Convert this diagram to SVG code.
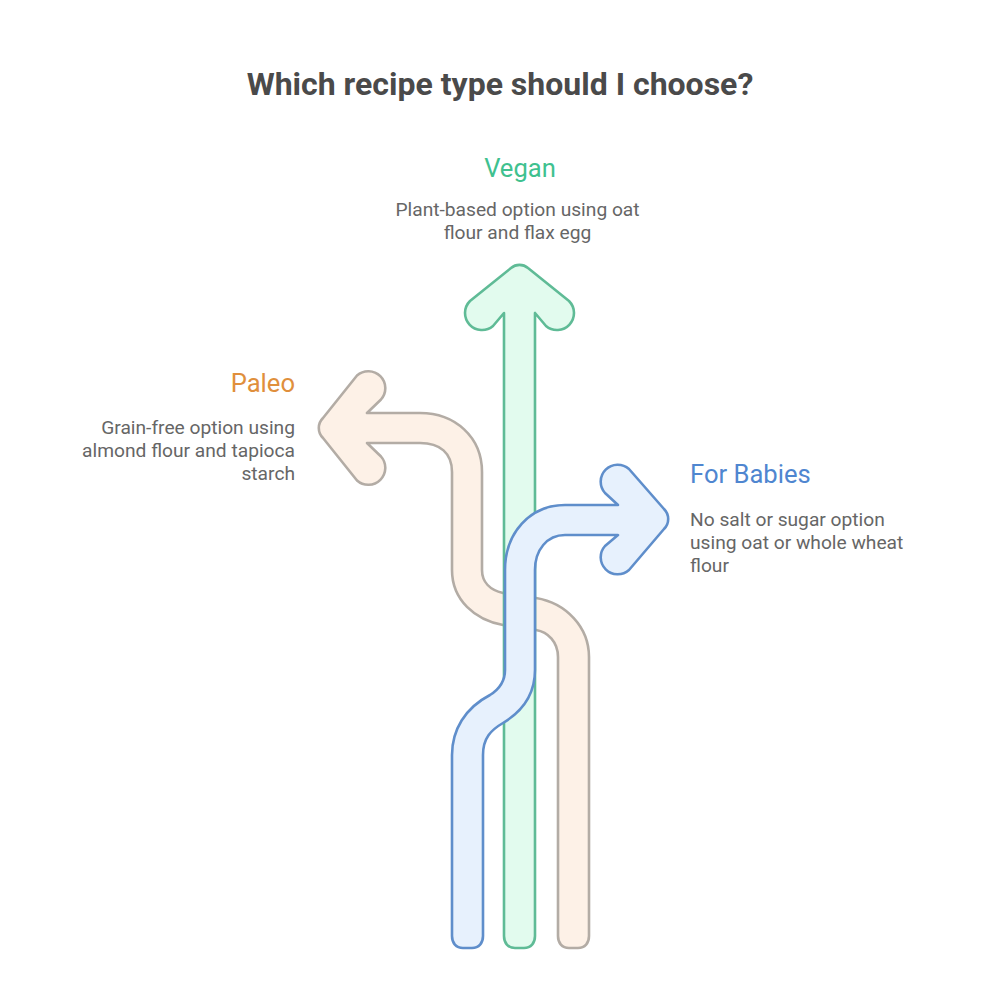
<svg xmlns="http://www.w3.org/2000/svg" width="1000" height="1000" viewBox="0 0 1000 1000">
<style>
text{font-family:Roboto,"Liberation Sans",sans-serif}
.t{font-size:32px;font-weight:700;fill:#4a4a4a;text-anchor:middle}
.h{font-size:25.6px}
.b{font-size:19.2px;fill:#666}
.a{stroke-width:2.6;stroke-linejoin:round}
.m{text-anchor:middle}.e{text-anchor:end}
</style>
<rect width="1000" height="1000" fill="#fff"/>
<text class="t" x="500" y="95">Which recipe type should I choose?</text>
<g id="connectors">
<path id="paleo-arrow" class="a" fill="#fdf1e7" stroke="#b3aca5" d="M558 936V657C558 642 548 632 536 630L503 625C475 620 452 600 452 570V472C452 453 440 443 420 443H367L381 456.500A17 17 0 0 1 357 480.500L323 438A14 14 0 0 1 323 418L357 375.500A17 17 0 0 1 381 399.500L367 413H420C455 413 482 437 482 472V570C482 582 490 590 503 593L536 598C566 603 589 627 589 657V936C589 943 585 948 578 948H569C562 948 558 943 558 936Z"/>
<path id="vegan-arrow" class="a" fill="#e2fbee" stroke="#5fbb96" d="M504 936V313L493 326A17 17 0 0 1 470 301L511 268A13 13 0 0 1 528 268L569 301A17 17 0 0 1 546 326L535 313V936C535 943 531 948 524 948H515C508 948 504 943 504 936Z"/>
<path id="babies-arrow" class="a" fill="#e7f1fd" stroke="#5f8ecb" d="M452 936V755C452 730 465 708 490 695C498 690 505 682 505 670V570C505 533 530 505 565 505H618L605 493A17 17 0 0 1 629 469L664 509A14 14 0 0 1 664 529L629 570A17 17 0 0 1 605 546L618 535H565C547 535 535 550 535 570V670C535 695 523 711 503 723C491 730 483 738 483 755V936C483 943 479 948 472 948H463C456 948 452 943 452 936Z"/>
</g>
<g id="node-vegan">
<text class="h m" x="520" y="176.500" fill="#3fc18f">Vegan</text>
<text class="b m" x="517.500" y="216">Plant-based option using oat</text>
<text class="b m" x="517.500" y="239">flour and flax egg</text>
</g>
<g id="node-paleo">
<text class="h e" x="295" y="391.500" fill="#e08f3c">Paleo</text>
<text class="b e" x="295" y="434">Grain-free option using</text>
<text class="b e" x="295" y="457">almond flour and tapioca</text>
<text class="b e" x="295" y="480">starch</text>
</g>
<g id="node-babies">
<text class="h" x="690" y="482.500" fill="#4f86d0">For Babies</text>
<text class="b" x="690" y="526">No salt or sugar option</text>
<text class="b" x="690" y="549">using oat or whole wheat</text>
<text class="b" x="690" y="572">flour</text>
</g>
</svg>
